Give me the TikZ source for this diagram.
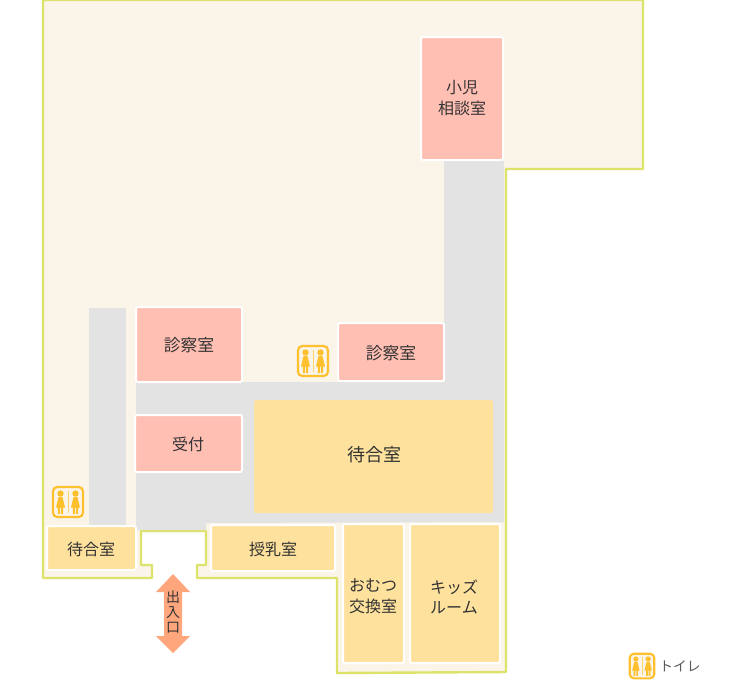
\documentclass[tikz,border=0pt]{standalone}
\usepackage{fontspec}
\setmainfont{Noto Sans CJK JP}
\definecolor{floorc}{HTML}{FBF4E9}
\definecolor{edgec}{HTML}{DCE26A}
\definecolor{hallc}{HTML}{E3E3E3}
\definecolor{pinkc}{HTML}{FFBFB3}
\definecolor{yelc}{HTML}{FEE19C}
\definecolor{arrc}{HTML}{FFA67C}
\definecolor{icoc}{HTML}{FFC02E}
\definecolor{txtc}{HTML}{333333}
\tikzset{
  x=0.75pt,y=-0.75pt,
  roomtext/.style={font=\fontsize{12pt}{15.5pt}\selectfont,text=txtc,align=center,inner sep=0pt},
  pinkroom/.style={fill=pinkc,draw=white,line width=1.5pt,rounded corners=1.5pt},
  yelroom/.style={fill=yelc,draw=white,line width=1.5pt,rounded corners=1.5pt},
  toilet/.pic={
    \draw[icoc,line width=1.6pt,rounded corners=3.2pt,fill=floorc] (-15,-15) rectangle (15,15);
    \draw[icoc!70!white,line width=0.4pt] (0,-11) -- (0,11);
    \foreach \s in {-1,1}{
      \fill[icoc] (\s*7.5,-8.5) circle[radius=3.2];
      \fill[icoc] (\s*7.5-2,-5) -- (\s*7.5+2,-5) -- (\s*7.5+4.5,5.5) -- (\s*7.5+2.6,5.5) -- (\s*7.5+2.6,12) -- (\s*7.5+0.5,12) -- (\s*7.5+0.5,5.5) -- (\s*7.5-0.5,5.5) -- (\s*7.5-0.5,12) -- (\s*7.5-2.6,12) -- (\s*7.5-2.6,5.5) -- (\s*7.5-4.5,5.5) -- cycle;
    }
  }
}
\begin{document}
\begin{tikzpicture}
\useasboundingbox (0,0) rectangle (730,686);
% floor
\draw[fill=floorc,draw=edgec,line width=1.8pt,line join=round]
  (43,0) -- (643,0) -- (643,169) -- (506,169) -- (506,672) -- (337,673) -- (337,578)
  -- (197,578) -- (197,565) -- (206,565) -- (206,531) -- (141,531) -- (141,565)
  -- (152,565) -- (152,578) -- (43,578) -- cycle;
% halls
\fill[hallc] (89,308) rectangle (126,525);
\fill[hallc] (444,161) -- (504,161) -- (504,522) -- (206,523) -- (206,530) -- (136,530) -- (136,382) -- (444,382) -- cycle;
% rooms
\draw[pinkroom] (421,37) rectangle (503,160);
\draw[pinkroom] (136,307) rectangle (242,382);
\draw[pinkroom] (338,323) rectangle (444,381);
\draw[pinkroom] (135,415) rectangle (242,472);
\fill[yelc,rounded corners=1.5pt] (254,400) rectangle (493,513);
\draw[yelroom] (47,526) rectangle (136,570);
\draw[yelroom] (211,525) rectangle (335,571);
\draw[yelroom] (343,524) rectangle (404,663);
\draw[yelroom] (410,524) rectangle (500,663);
% labels
\node[roomtext] (soudan) at (462,98) {小児\\相談室};
\node[roomtext,font=\fontsize{12.6pt}{15.5pt}\selectfont] (shin1) at (189,345) {診察室};
\node[roomtext,font=\fontsize{12.6pt}{15.5pt}\selectfont] (shin2) at (391,353) {診察室};
\node[roomtext] (uke) at (188,444) {受付};
\node[roomtext,font=\fontsize{13.5pt}{16pt}\selectfont] (machi1) at (374,455) {待合室};
\node[roomtext] (machi2) at (91,549) {待合室};
\node[roomtext] (junyu) at (273,549) {授乳室};
\node[roomtext] (omutsu) at (373,596) {おむつ\\交換室};
\node[roomtext] (kids) at (454,597) {キッズ\\ルーム};
% entrance arrow
\fill[arrc] (173,574) -- (190,592) -- (182,592) -- (182,636) -- (190,636) -- (173,653)
  -- (156,636) -- (164,636) -- (164,592) -- (156,592) -- cycle;
\node[font=\fontsize{10.5pt}{11.3pt}\selectfont,text=txtc,align=center,inner sep=0pt] (entry) at (173,612) {出\\入\\口};
% toilets
\pic at (313,361) {toilet};
\pic at (68,502) {toilet};
\pic[scale=0.82] at (642,666) {toilet};
\node[font=\fontsize{10.3pt}{12pt}\selectfont,text=black!65,inner sep=0pt] (legend) at (680,666) {トイレ};
\end{tikzpicture}
\end{document}
